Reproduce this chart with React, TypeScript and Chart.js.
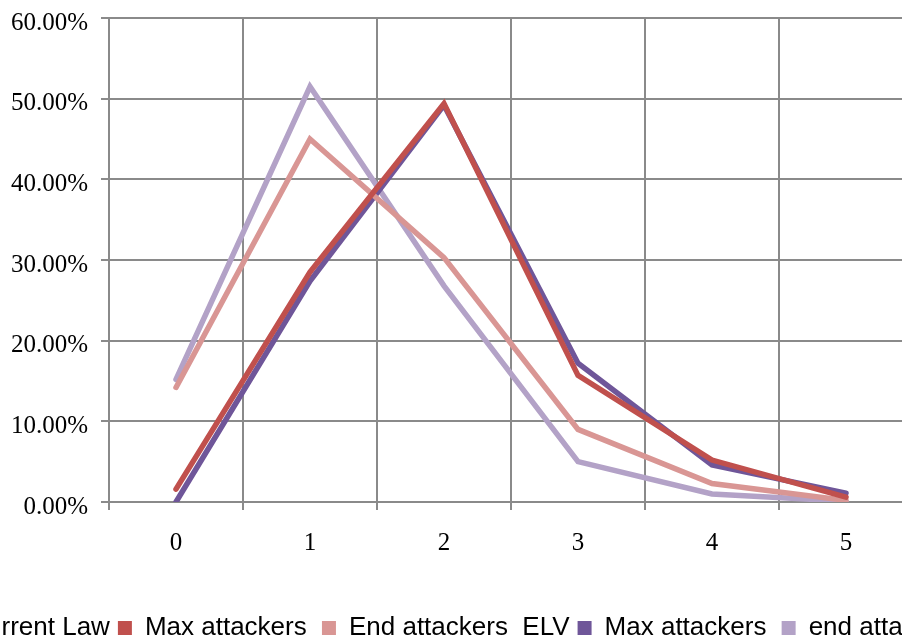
import React, { useEffect, useRef } from 'react';
import { Chart, registerables } from 'chart.js';

Chart.register(...registerables);

// ---- data ----
const categories = ['0', '1', '2', '3', '4', '5'];
const currentLawMax = [1.6, 28.5, 49.4, 15.7, 5.2, 0.6];
const currentLawEnd = [14.2, 45.0, 30.3, 9.0, 2.3, 0.2];
const elvMax = [0.0, 27.4, 49.2, 17.2, 4.6, 1.1];
const elvEnd = [15.2, 51.5, 26.8, 5.0, 1.0, 0.1];
const seriesNames = [
  'Current Law Max attackers',
  'Current Law End attackers',
  'ELV Max attackers',
  'ELV end attackers',
];
const legendTexts = ['Current Law', 'Max attackers ', 'End attackers  ELV', 'Max attackers ', 'end attackers'];
const yTicks = [0, 10, 20, 30, 40, 50, 60];

const COLORS = ['#C0504D', '#D99694', '#6F5699', '#B3A2C7'];
const GRID = '#8a8a8a';
const SERIF = "'Liberation Serif', 'Times New Roman', serif";
const SANS = "'Liberation Sans', Arial, sans-serif";

const CANVAS_W = 1200;
const CANVAS_H = 651;
const CANVAS_LEFT = -147;

export default function App() {
  const ref = useRef<HTMLCanvasElement>(null);

  useEffect(() => {
    const canvas = ref.current;
    if (!canvas) return;
    const series = [currentLawMax, currentLawEnd, elvMax, elvEnd];
    const chart = new Chart(canvas, {
      type: 'line',
      data: {
        labels: categories,
        datasets: series.map((d, i) => ({
          label: seriesNames[i],
          data: d,
          borderColor: COLORS[i],
          backgroundColor: COLORS[i],
          borderWidth: 5.5,
          pointRadius: 0,
          pointHoverRadius: 0,
          tension: 0,
          fill: false,
          borderCapStyle: 'round' as const,
          borderJoinStyle: 'miter' as const,
        })),
      },
      options: {
        responsive: false,
        animation: false,
        devicePixelRatio: 1,
        layout: { padding: { top: 18, left: 0, right: 0, bottom: 0 } },
        plugins: {
          legend: {
            position: 'bottom',
            onClick: () => {},
            labels: {
              boxWidth: 14,
              boxHeight: 14,
              padding: 8,
              color: '#000',
              font: { family: SANS, size: 26 },
              generateLabels: () =>
                legendTexts.map((t, i) => {
                  const c = i === 0 ? 'rgba(0,0,0,0)' : COLORS[i - 1];
                  return {
                    text: t,
                    fillStyle: c,
                    strokeStyle: c,
                    lineWidth: 0,
                    hidden: false,
                    datasetIndex: i - 1,
                  } as any;
                }),
            },
          },
          tooltip: { enabled: false },
        },
        scales: {
          x: {
            offset: true,
            grid: { offset: true, color: GRID, lineWidth: 2, tickLength: 8, drawTicks: true },
            border: { color: GRID, width: 2 },
            ticks: { color: '#000', font: { family: SERIF, size: 25 }, padding: 18, maxRotation: 0 },
            afterFit: (s: any) => {
              s.height = 105;
            },
          },
          y: {
            min: 0,
            max: 60,
            afterBuildTicks: (s: any) => {
              s.ticks = yTicks.map((v) => ({ value: v }));
            },
            ticks: {
              color: '#000',
              font: { family: SERIF, size: 25 },
              padding: 13,
              labelOffset: 5,
              callback: (v: any) => Number(v).toFixed(2) + '%',
            },
            grid: { color: GRID, lineWidth: 2, tickLength: 8, drawTicks: true },
            border: { color: GRID, width: 2 },
            afterFit: (s: any) => {
              s.width = 109 - CANVAS_LEFT;
              s.paddingTop = 0;
              s.paddingBottom = 0;
            },
          },
          yR: {
            type: 'linear',
            position: 'right',
            display: true,
            ticks: { display: false },
            grid: { display: false, drawTicks: false },
            border: { display: false },
            afterFit: (s: any) => {
              s.width = CANVAS_W - (913 - CANVAS_LEFT);
              s.paddingTop = 0;
              s.paddingBottom = 0;
            },
          },
        },
      } as any,
    });
    return () => chart.destroy();
  }, []);

  return (
    <div
      style={{
        position: 'fixed',
        left: 0,
        top: 0,
        width: 902,
        height: 640,
        overflow: 'hidden',
        background: '#fff',
      }}
    >
      <canvas
        ref={ref}
        width={CANVAS_W}
        height={CANVAS_H}
        style={{ position: 'absolute', left: CANVAS_LEFT, top: 0, width: CANVAS_W, height: CANVAS_H }}
      />
    </div>
  );
}
